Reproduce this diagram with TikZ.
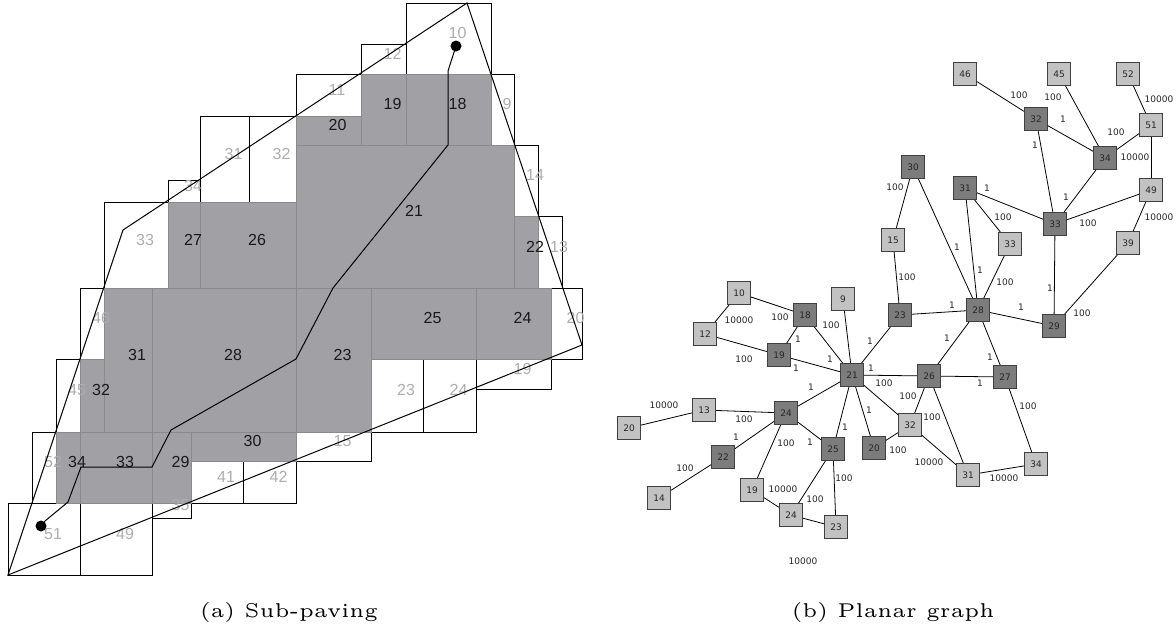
\documentclass[tikz,border=0pt]{standalone}
\usepackage{fontspec}
\newfontfamily\pavefont{Liberation Sans}
\newfontfamily\graphfont{DejaVu Sans}
\usepackage{tikz}
\definecolor{cellgray}{HTML}{A1A1A5}
\definecolor{celledge}{HTML}{8A8A8A}
\definecolor{palelabel}{HTML}{ADADAD}
\definecolor{lightnode}{HTML}{C2C2C2}
\definecolor{darknode}{HTML}{7C7C7C}

\begin{document}
\begin{tikzpicture}[
    x=1pt, y=-1pt,
    outbox/.style={draw=black, line width=1pt},
    inbox/.style={fill=cellgray, draw=celledge, line width=1pt},
    outlbl/.style={anchor=base west, inner sep=0pt, text=palelabel, font=\pavefont\fontsize{16}{18}\selectfont},
    inlbl/.style={anchor=base west, inner sep=0pt, text=black!90, font=\pavefont\fontsize{16}{18}\selectfont},
    gbox/.style={draw=black!75, line width=1pt, minimum width=23pt, minimum height=23pt, inner sep=0pt, font=\graphfont\fontsize{9}{10}\selectfont, text=black!85},
    lightbox/.style={gbox, fill=lightnode},
    darkbox/.style={gbox, fill=darknode},
    link/.style={draw=black, line width=0.8pt},
    wt/.style={inner sep=0pt, font=\graphfont\fontsize{9}{10}\selectfont, text=black!85},
    caption/.style={anchor=base, inner sep=0pt, scale=4, transform shape, font=\fontsize{5}{6}\selectfont}
  ]
    \useasboundingbox (0,0) rectangle (1176,635);

    % (a) sub-paving
    \foreach \xa/\ya/\xb/\yb/\lab in {406/3/491/74/10, 361/44/406/74/12, 296/74/361/116/11,
        491/74/514/145/9, 514/145/538/216/14, 538/216/562/288/13, 551/288/582/359/20,
        476/359/551/389/19, 423/359/476/432/24, 371/359/423/432/23, 296/432/371/461/15,
        243/461/296/503/42, 191/461/243/503/41, 152/503/191/518/35, 80/503/152/575/49,
        8/503/80/575/51, 32/432/56/503/52, 56/359/80/432/45, 80/288/104/359/46,
        104/202/168/288/33, 168/180/200/202/34, 200/116/249/202/31, 249/116/296/202/32}
      \draw[outbox] (\xa,\ya) rectangle (\xb,\yb);
    \foreach \xa/\ya/\xb/\yb/\lab in {361/74/406/145/19, 406/74/491/145/18, 296/116/361/145/20,
        296/145/514/288/21, 514/216/538/288/22, 168/202/200/288/27, 200/202/296/288/26,
        104/288/152/432/31, 152/288/296/432/28, 296/288/371/432/23, 371/288/476/359/25,
        476/288/551/359/24, 80/359/104/432/32, 56/432/80/503/34, 80/432/152/503/33,
        152/432/191/503/29, 191/432/296/461/30}
      \draw[inbox] (\xa,\ya) rectangle (\xb,\yb);
    \foreach \xa/\ya/\xb/\yb/\lab in {406/3/491/74/10, 361/44/406/74/12, 296/74/361/116/11,
        491/74/514/145/9, 514/145/538/216/14, 538/216/562/288/13, 551/288/582/359/20,
        476/359/551/389/19, 423/359/476/432/24, 371/359/423/432/23, 296/432/371/461/15,
        243/461/296/503/42, 191/461/243/503/41, 152/503/191/518/35, 80/503/152/575/49,
        8/503/80/575/51, 32/432/56/503/52, 56/359/80/432/45, 80/288/104/359/46,
        104/202/168/288/33, 168/180/200/202/34, 200/116/249/202/31, 249/116/296/202/32}
      \node[outlbl] (p\lab) at ({(\xa+\xb)/2},{(\ya+\yb)/2}) {\lab};
    \foreach \xa/\ya/\xb/\yb/\lab in {361/74/406/145/19, 406/74/491/145/18, 296/116/361/145/20,
        296/145/514/288/21, 514/216/538/288/22, 168/202/200/288/27, 200/202/296/288/26,
        104/288/152/432/31, 152/288/296/432/28, 296/288/371/432/23, 371/288/476/359/25,
        476/288/551/359/24, 80/359/104/432/32, 56/432/80/503/34, 80/432/152/503/33,
        152/432/191/503/29, 191/432/296/461/30}
      \node[inlbl] (q\lab) at ({(\xa+\xb)/2},{(\ya+\yb)/2}) {\lab};

    \draw[line width=1pt] (8,575) -- (123,230) -- (467,3) -- (582,345) -- cycle;
    \coordinate (start) at (456,46);
    \coordinate (goal) at (41,526);
    \draw[line width=1pt] (start) -- (448,71) -- (448,145) -- (333,288) -- (296,359)
      -- (171,430) -- (152,467) -- (81,467) -- (68,502) -- (45,521) -- (goal);
    \fill (start) circle (5.5);
    \fill (goal) circle (5.5);

    % (b) planar graph
    \node[lightbox] (n10) at (739,293) {10};
    \node[darkbox] (n18) at (805,315) {18};
    \node[lightbox] (n9) at (843,299) {9};
    \node[lightbox] (n12) at (705,334) {12};
    \node[darkbox] (n19) at (779,355) {19};
    \node[darkbox] (n21) at (852,375) {21};
    \node[lightbox] (n13) at (704,410) {13};
    \node[lightbox] (n20l) at (629,428) {20};
    \node[darkbox] (n24) at (786,413) {24};
    \node[darkbox] (n22) at (723,457) {22};
    \node[lightbox] (n14) at (659,498) {14};
    \node[darkbox] (n25) at (833,449) {25};
    \node[darkbox] (n20) at (874,448) {20};
    \node[lightbox] (n19l) at (752,490) {19};
    \node[lightbox] (n24l) at (791,515) {24};
    \node[lightbox] (n23l) at (836,527) {23};
    \node[darkbox] (n26) at (929,376) {26};
    \node[darkbox] (n27) at (1005,377) {27};
    \node[lightbox] (n32l) at (910,425) {32};
    \node[lightbox] (n31l) at (968,475) {31};
    \node[lightbox] (n34l) at (1036,464) {34};
    \node[lightbox] (n46) at (965,74) {46};
    \node[lightbox] (n45) at (1059,74) {45};
    \node[lightbox] (n52) at (1128,74) {52};
    \node[darkbox] (n32) at (1036,119) {32};
    \node[lightbox] (n51) at (1151,125) {51};
    \node[darkbox] (n34) at (1105,158) {34};
    \node[darkbox] (n30) at (913,167) {30};
    \node[darkbox] (n31) at (965,188) {31};
    \node[lightbox] (n49) at (1151,190) {49};
    \node[darkbox] (n33) at (1055,224) {33};
    \node[lightbox] (n15) at (893,240) {15};
    \node[lightbox] (n33l) at (1010,244) {33};
    \node[lightbox] (n39) at (1128,243) {39};
    \node[darkbox] (n23) at (900,315) {23};
    \node[darkbox] (n28) at (978,310) {28};
    \node[darkbox] (n29) at (1054,326) {29};

    \foreach \a/\b in {n10/n12, n10/n18, n12/n19, n18/n19, n18/n21, n9/n21, n19/n21,
        n21/n24, n21/n25, n21/n20, n21/n32l, n21/n26, n21/n23, n13/n24, n13/n20l,
        n24/n22, n22/n14, n24/n19l, n24/n25, n25/n24l, n25/n23l, n19l/n24l, n24l/n23l,
        n20/n32l, n26/n27, n26/n32l, n26/n31l, n32l/n31l, n27/n34l, n31l/n34l,
        n26/n28, n27/n28, n46/n32, n45/n34, n52/n51, n32/n34, n32/n33, n34/n51,
        n51/n49, n34/n33, n31/n33, n33/n49, n49/n39, n31/n33l, n31/n28, n30/n28,
        n30/n15, n15/n23, n33l/n28, n23/n28, n28/n29, n33/n29, n39/n29}
      \draw[link] (\a) -- (\b);

    \foreach \x/\y/\t [count=\i] in {780/317/100, 739/320/10000, 831/325/100, 798/339/1,
        744/359/100, 830/359/1, 796/368/1, 870/341/1, 871/368/1, 884/383/100, 811/387/1,
        744/419/100, 664/405/10000, 736/437/1, 685/468/100, 786/443/100, 810/442/1,
        845/427/1, 869/410/1, 783/489/10000, 815/499/100, 844/478/100, 803/561/10000,
        947/338/1, 990/357/1, 980/383/1, 908/396/100, 932/417/100, 1028/406/100,
        898/450/100, 929/462/10000, 1004/478/10000, 1019/95/100, 1053/97/100,
        1159/99/10000, 1063/119/1, 1116/132/100, 1035/145/1, 1135/157/10000,
        895/187/100, 987/188/1, 1066/197/1, 1003/217/100, 1088/223/100, 1159/217/10000,
        957/247/1, 980/270/1, 907/277/100, 1005/282/100, 1050/288/1, 952/305/1,
        1021/307/1, 1082/313/100}
      \node[wt] (w\i) at (\x,\y) {\t};

    \node[caption] (capa) at (289,617) {(a) Sub-paving};
    \node[caption] (capb) at (893,617) {(b) Planar graph};
  \end{tikzpicture}
\end{document}
